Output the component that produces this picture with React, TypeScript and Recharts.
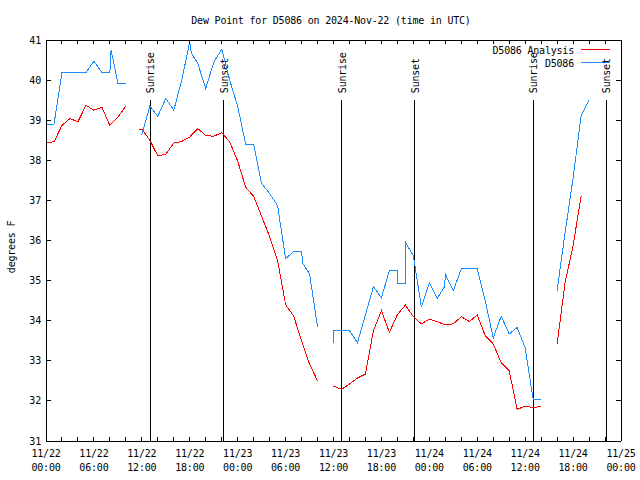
import React from 'react';
import { LineChart, Line, XAxis, YAxis, ReferenceLine, Customized } from 'recharts';

// hours after 2024-11-22 00:00 UTC, null = no data (gap)
const analysisHours = [
  0, 1, 2, 3, 4, 5, 6, 7, 8, 9, 10, 11,
  11.7, 12, 13, 14, 15, 16, 17, 18, 19, 20, 21, 22, 23, 24, 25, 26, 27, 28, 29, 30, 31, 32, 33, 34, 35,
  36, 37, 38, 39, 40, 41, 42, 43, 44, 45, 46, 47, 48, 49, 50, 51, 52, 53, 54, 55, 56, 57, 58, 59, 60, 61, 62, 63,
  64, 65, 66, 67,
];
const analysisDew = [
  38.44, 38.46, 38.87, 39.04, 38.96, 39.37, 39.25, 39.32, 38.87, 39.08, 39.35, null,
  38.78, 38.78, 38.5, 38.11, 38.15, 38.43, 38.47, 38.58, 38.79, 38.62, 38.6, 38.69, 38.46, 37.98, 37.33, 37.1, 36.6, 36.1, 35.5, 34.4, 34.12, 33.5, 32.92, 32.5, null,
  32.37, 32.29, 32.42, 32.57, 32.67, 33.75, 34.25, 33.71, 34.15, 34.39, 34.1, 33.92, 34.04, 33.97, 33.9, 33.92, 34.1, 33.98, 34.14, 33.63, 33.42, 32.95, 32.75, 31.79, 31.87, 31.83, 31.87, null,
  33.42, 34.95, 35.87, 37.1,
];

const stationHours = [
  0, 1, 2, 3, 4, 5, 6, 7, 8, 8.15, 9, 10, 11,
  12, 13, 14, 15, 16, 17, 18, 18.2, 19, 20, 21, 22, 23, 24, 25, 26, 27, 28, 29, 30, 31, 32, 32.15, 33, 34, 35,
  36, 36.05, 37, 38, 39, 40, 41, 42, 43, 44, 44.05, 45, 45.05, 46, 47, 48, 49, 49.85, 50.05, 51, 52, 53, 54,
  55, 56, 57, 58, 59, 60, 60.5, 61, 62, 63,
  64, 65, 66, 67, 68,
];
const stationDew = [
  38.9, 38.9, 40.19, 40.19, 40.19, 40.19, 40.47, 40.19, 40.19, 40.75, 39.92, 39.92, null,
  38.64, 39.35, 39.1, 39.54, 39.25, 40.0, 40.96, 40.67, 40.42, 39.79, 40.44, 40.77, 40.0, 39.35, 38.4, 38.4, 37.42, 37.17, 36.87, 35.55, 35.72, 35.72, 35.43, 35.17, 33.85, null,
  33.45, 33.75, 33.75, 33.75, 33.45, 34.15, 34.85, 34.57, 35.25, 35.25, 34.94, 34.94, 35.94, 35.62, 34.35, 34.94, 34.56, 34.83, 35.14, 34.75, 35.29, 35.29, 35.29,
  34.5, 33.57, 34.11, 33.67, 33.83, 33.33, 32.67, 32.04, 32.04, null,
  34.75, 36.2, 37.55, 39.1, 39.5,
];

const seriesNames = ['D5086 Analysis', 'D5086'];
const seriesColors = ['#ff0000', '#1a8cff'];

const sunHours = [13.04, 22.25, 37.04, 46.16, 61.04, 70.16];
const sunNames = ['Sunrise', 'Sunset', 'Sunrise', 'Sunset', 'Sunrise', 'Sunset'];

const xLabelHours = [0, 6, 12, 18, 24, 30, 36, 42, 48, 54, 60, 66, 72];
const xLabelDays = ['11/22', '11/22', '11/22', '11/22', '11/23', '11/23', '11/23', '11/23', '11/24', '11/24', '11/24', '11/24', '11/25'];
const xLabelTimes = ['00:00', '06:00', '12:00', '18:00', '00:00', '06:00', '12:00', '18:00', '00:00', '06:00', '12:00', '18:00', '00:00'];
const xTickHours = Array.from({ length: 37 }, (_, i) => i * 2);
const yTicks = [31, 32, 33, 34, 35, 36, 37, 38, 39, 40, 41];

const FONT = '"DejaVu Sans Mono", monospace';
const txt = { fontFamily: FONT, fontSize: 10, letterSpacing: -0.2, fill: '#000' };

const analysisData = analysisHours.map((h, i) => ({ h, v: analysisDew[i] }));
const stationData = stationHours.map((h, i) => ({ h, v: stationDew[i] }));

const BottomTick = (props: any) => {
  const { x, y, payload } = props;
  const i = xLabelHours.indexOf(payload.value);
  return (
    <g>
      <line x1={x} x2={x} y1={y} y2={y - 4} stroke="#000" shapeRendering="crispEdges" />
      {i >= 0 && (
        <text textAnchor="middle" style={txt}>
          <tspan x={x} y={y + 16}>{xLabelDays[i]}</tspan>
          <tspan x={x} y={y + 30}>{xLabelTimes[i]}</tspan>
        </text>
      )}
    </g>
  );
};

const TopTick = (props: any) => {
  const { x, y } = props;
  return <line x1={x} x2={x} y1={y} y2={y + 4} stroke="#000" shapeRendering="crispEdges" />;
};

const LeftTick = (props: any) => {
  const { x, y, payload } = props;
  return (
    <g>
      <line x1={x} x2={x + 5} y1={y} y2={y} stroke="#000" shapeRendering="crispEdges" />
      <text x={x - 5} y={y} textAnchor="end" dominantBaseline="central" style={txt}>
        {payload.value}
      </text>
    </g>
  );
};

const RightTick = (props: any) => {
  const { x, y } = props;
  return <line x1={x} x2={x - 5} y1={y} y2={y} stroke="#000" shapeRendering="crispEdges" />;
};

const SunLabel = ({ viewBox, text }: any) => {
  const x = viewBox.x + 4;
  const y = viewBox.y - 7;
  return (
    <text x={x} y={y} transform={`rotate(-90 ${x} ${y})`} textAnchor="start" style={txt}>
      {text}
    </text>
  );
};

const Decorations = () => (
  <g>
    <text x={331} y={20} textAnchor="middle" dominantBaseline="central" style={txt}>
      Dew Point for D5086 on 2024-Nov-22 (time in UTC)
    </text>
    <text
      x={11}
      y={247}
      textAnchor="middle"
      dominantBaseline="central"
      transform="rotate(-90 11 247)"
      style={txt}
    >
      degrees F
    </text>
    {seriesNames.map((name, i) => (
      <g key={name}>
        <text x={574} y={50 + i * 13} textAnchor="end" dominantBaseline="central" style={txt}>
          {name}
        </text>
        <line
          x1={581}
          x2={610}
          y1={49 + i * 13}
          y2={49 + i * 13}
          style={{ stroke: seriesColors[i], strokeWidth: 1 }}
          shapeRendering="crispEdges"
        />
      </g>
    ))}
  </g>
);

export default function App() {
  return (
    <div style={{ position: 'absolute', left: 0, top: 0, background: '#fff' }}>
      <LineChart width={640} height={480} margin={{ top: 0, right: 0, bottom: 0, left: 0 }}>
        <XAxis
          xAxisId="bottom"
          dataKey="h"
          type="number"
          domain={[0, 72]}
          ticks={xTickHours}
          interval={0}
          height={39}
          tickSize={0}
          tickMargin={0}
          tick={<BottomTick />}
          axisLine={{ stroke: '#000', shapeRendering: 'crispEdges' }}
          allowDataOverflow
        />
        <XAxis
          xAxisId="top"
          orientation="top"
          dataKey="h"
          type="number"
          domain={[0, 72]}
          ticks={xTickHours}
          interval={0}
          height={40}
          tickSize={0}
          tickMargin={0}
          tick={<TopTick />}
          axisLine={{ stroke: '#000', shapeRendering: 'crispEdges' }}
          allowDataOverflow
        />
        <YAxis
          yAxisId="left"
          type="number"
          domain={[31, 41]}
          ticks={yTicks}
          interval={0}
          width={46}
          tickSize={0}
          tickMargin={0}
          tick={<LeftTick />}
          axisLine={{ stroke: '#000', shapeRendering: 'crispEdges' }}
          allowDataOverflow
        />
        <YAxis
          yAxisId="right"
          orientation="right"
          type="number"
          domain={[31, 41]}
          ticks={yTicks}
          interval={0}
          width={19}
          tickSize={0}
          tickMargin={0}
          tick={<RightTick />}
          axisLine={{ stroke: '#000', shapeRendering: 'crispEdges' }}
          allowDataOverflow
        />
        {sunHours.map((t, i) => (
          <ReferenceLine
            key={i}
            xAxisId="bottom"
            yAxisId="left"
            segment={[{ x: t, y: 39.5 }, { x: t, y: 31 }]}
            stroke="#000"
            strokeWidth={1}
            shapeRendering="crispEdges"
            label={(p: any) => <SunLabel {...p} text={sunNames[i]} />}
          />
        ))}
        <Line
          xAxisId="bottom"
          yAxisId="left"
          data={analysisData}
          dataKey="v"
          name={seriesNames[0]}
          type="linear"
          stroke={seriesColors[0]}
          strokeWidth={1}
          shapeRendering="crispEdges"
          dot={false}
          activeDot={false}
          connectNulls={false}
          isAnimationActive={false}
        />
        <Line
          xAxisId="bottom"
          yAxisId="left"
          data={stationData}
          dataKey="v"
          name={seriesNames[1]}
          type="linear"
          stroke={seriesColors[1]}
          strokeWidth={1}
          shapeRendering="crispEdges"
          dot={false}
          activeDot={false}
          connectNulls={false}
          isAnimationActive={false}
        />
        <Customized component={Decorations} />
      </LineChart>
    </div>
  );
}
